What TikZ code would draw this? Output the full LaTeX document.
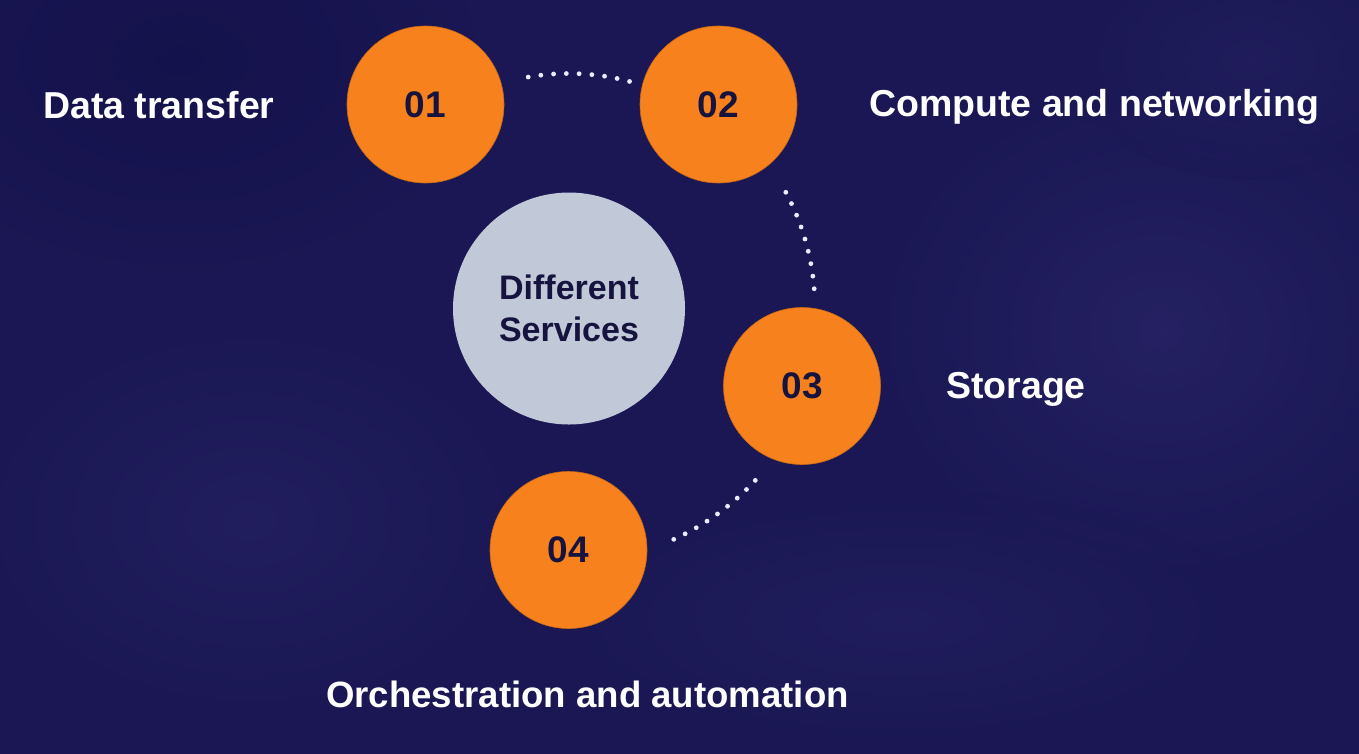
\documentclass[tikz,border=0pt]{standalone}
\usepackage{fontspec}
\setmainfont{Liberation Sans}
\begin{document}
\definecolor{bgnavy}{HTML}{1A1754}
\definecolor{bgdeep}{HTML}{13114A}
\definecolor{bglift}{HTML}{2A2668}
\definecolor{stepor}{HTML}{F7821D}
\definecolor{hubgrey}{HTML}{C1C8D8}
\definecolor{inkdark}{HTML}{16143F}
\begin{tikzpicture}[x=1pt,y=-1pt,
  stepdisc/.style={circle,fill=stepor,draw=stepor!80!black,line width=0.6pt,
    minimum size=157pt,inner sep=0pt,text=inkdark,
    font=\fontsize{37}{40}\selectfont\bfseries},
  hubdisc/.style={circle,fill=hubgrey,minimum size=232pt,inner sep=0pt,
    text=inkdark,align=center,font=\fontsize{34}{42}\selectfont\bfseries},
  steplabel/.style={anchor=base west,inner sep=0pt,text=white,
    font=\fontsize{37.5}{40}\selectfont\bfseries},
  dotarc/.style={draw=white!92!blue,line width=4.8pt,line cap=round}
]
% backdrop with soft lighter patches
\useasboundingbox (0,0) rectangle (1359,753);
\fill[bgnavy] (-20,-20) rectangle (1379,773);
\shade[inner color=bgdeep,outer color=bgnavy,opacity=0.8] (180,60) ellipse (320 and 220);
\shade[inner color=bglift,outer color=bgnavy,opacity=0.7] (1160,330) ellipse (300 and 260);
\shade[inner color=bglift,outer color=bgnavy,opacity=0.5] (250,520) ellipse (280 and 200);
\shade[inner color=bglift,outer color=bgnavy,opacity=0.45] (900,620) ellipse (360 and 130);
\shade[inner color=bglift,outer color=bgnavy,opacity=0.4] (1250,60) ellipse (180 and 120);

% central hub and the four numbered steps
\node[hubdisc] (hub) at (569,308.5) {Different\\Services};
\node[stepdisc] (s1) at (425.5,104.5) {01};
\node[stepdisc] (s2) at (718.5,104.5) {02};
\node[stepdisc] (s3) at (802,386) {03};
\node[stepdisc] (s4) at (568.5,550) {04};

% step captions
\node[steplabel] (l1) at (43,118) {Data transfer};
\node[steplabel] (l2) at (869,116) {Compute and networking};
\node[steplabel] (l3) at (946,398) {Storage};
\node[steplabel,font=\fontsize{36.6}{40}\selectfont\bfseries] (l4) at (326,707) {Orchestration and automation};

% dotted arcs around the hub linking consecutive steps
\draw[dotarc,dash pattern=on 0pt off 12.78pt]
  ([shift={(-100:235)}]hub.center) arc[start angle=-100,end angle=-75,radius=235];
\draw[dotarc,dash pattern=on 0pt off 12.66pt]
  ([shift={(-28.2:246)}]hub.center) arc[start angle=-28.2,end angle=-4.5,radius=246];
\draw[dotarc,dash pattern=on 0pt off 12.66pt]
  ([shift={(42.7:253.5)}]hub.center) arc[start angle=42.7,end angle=65.7,radius=253.5];
\end{tikzpicture}
\end{document}
